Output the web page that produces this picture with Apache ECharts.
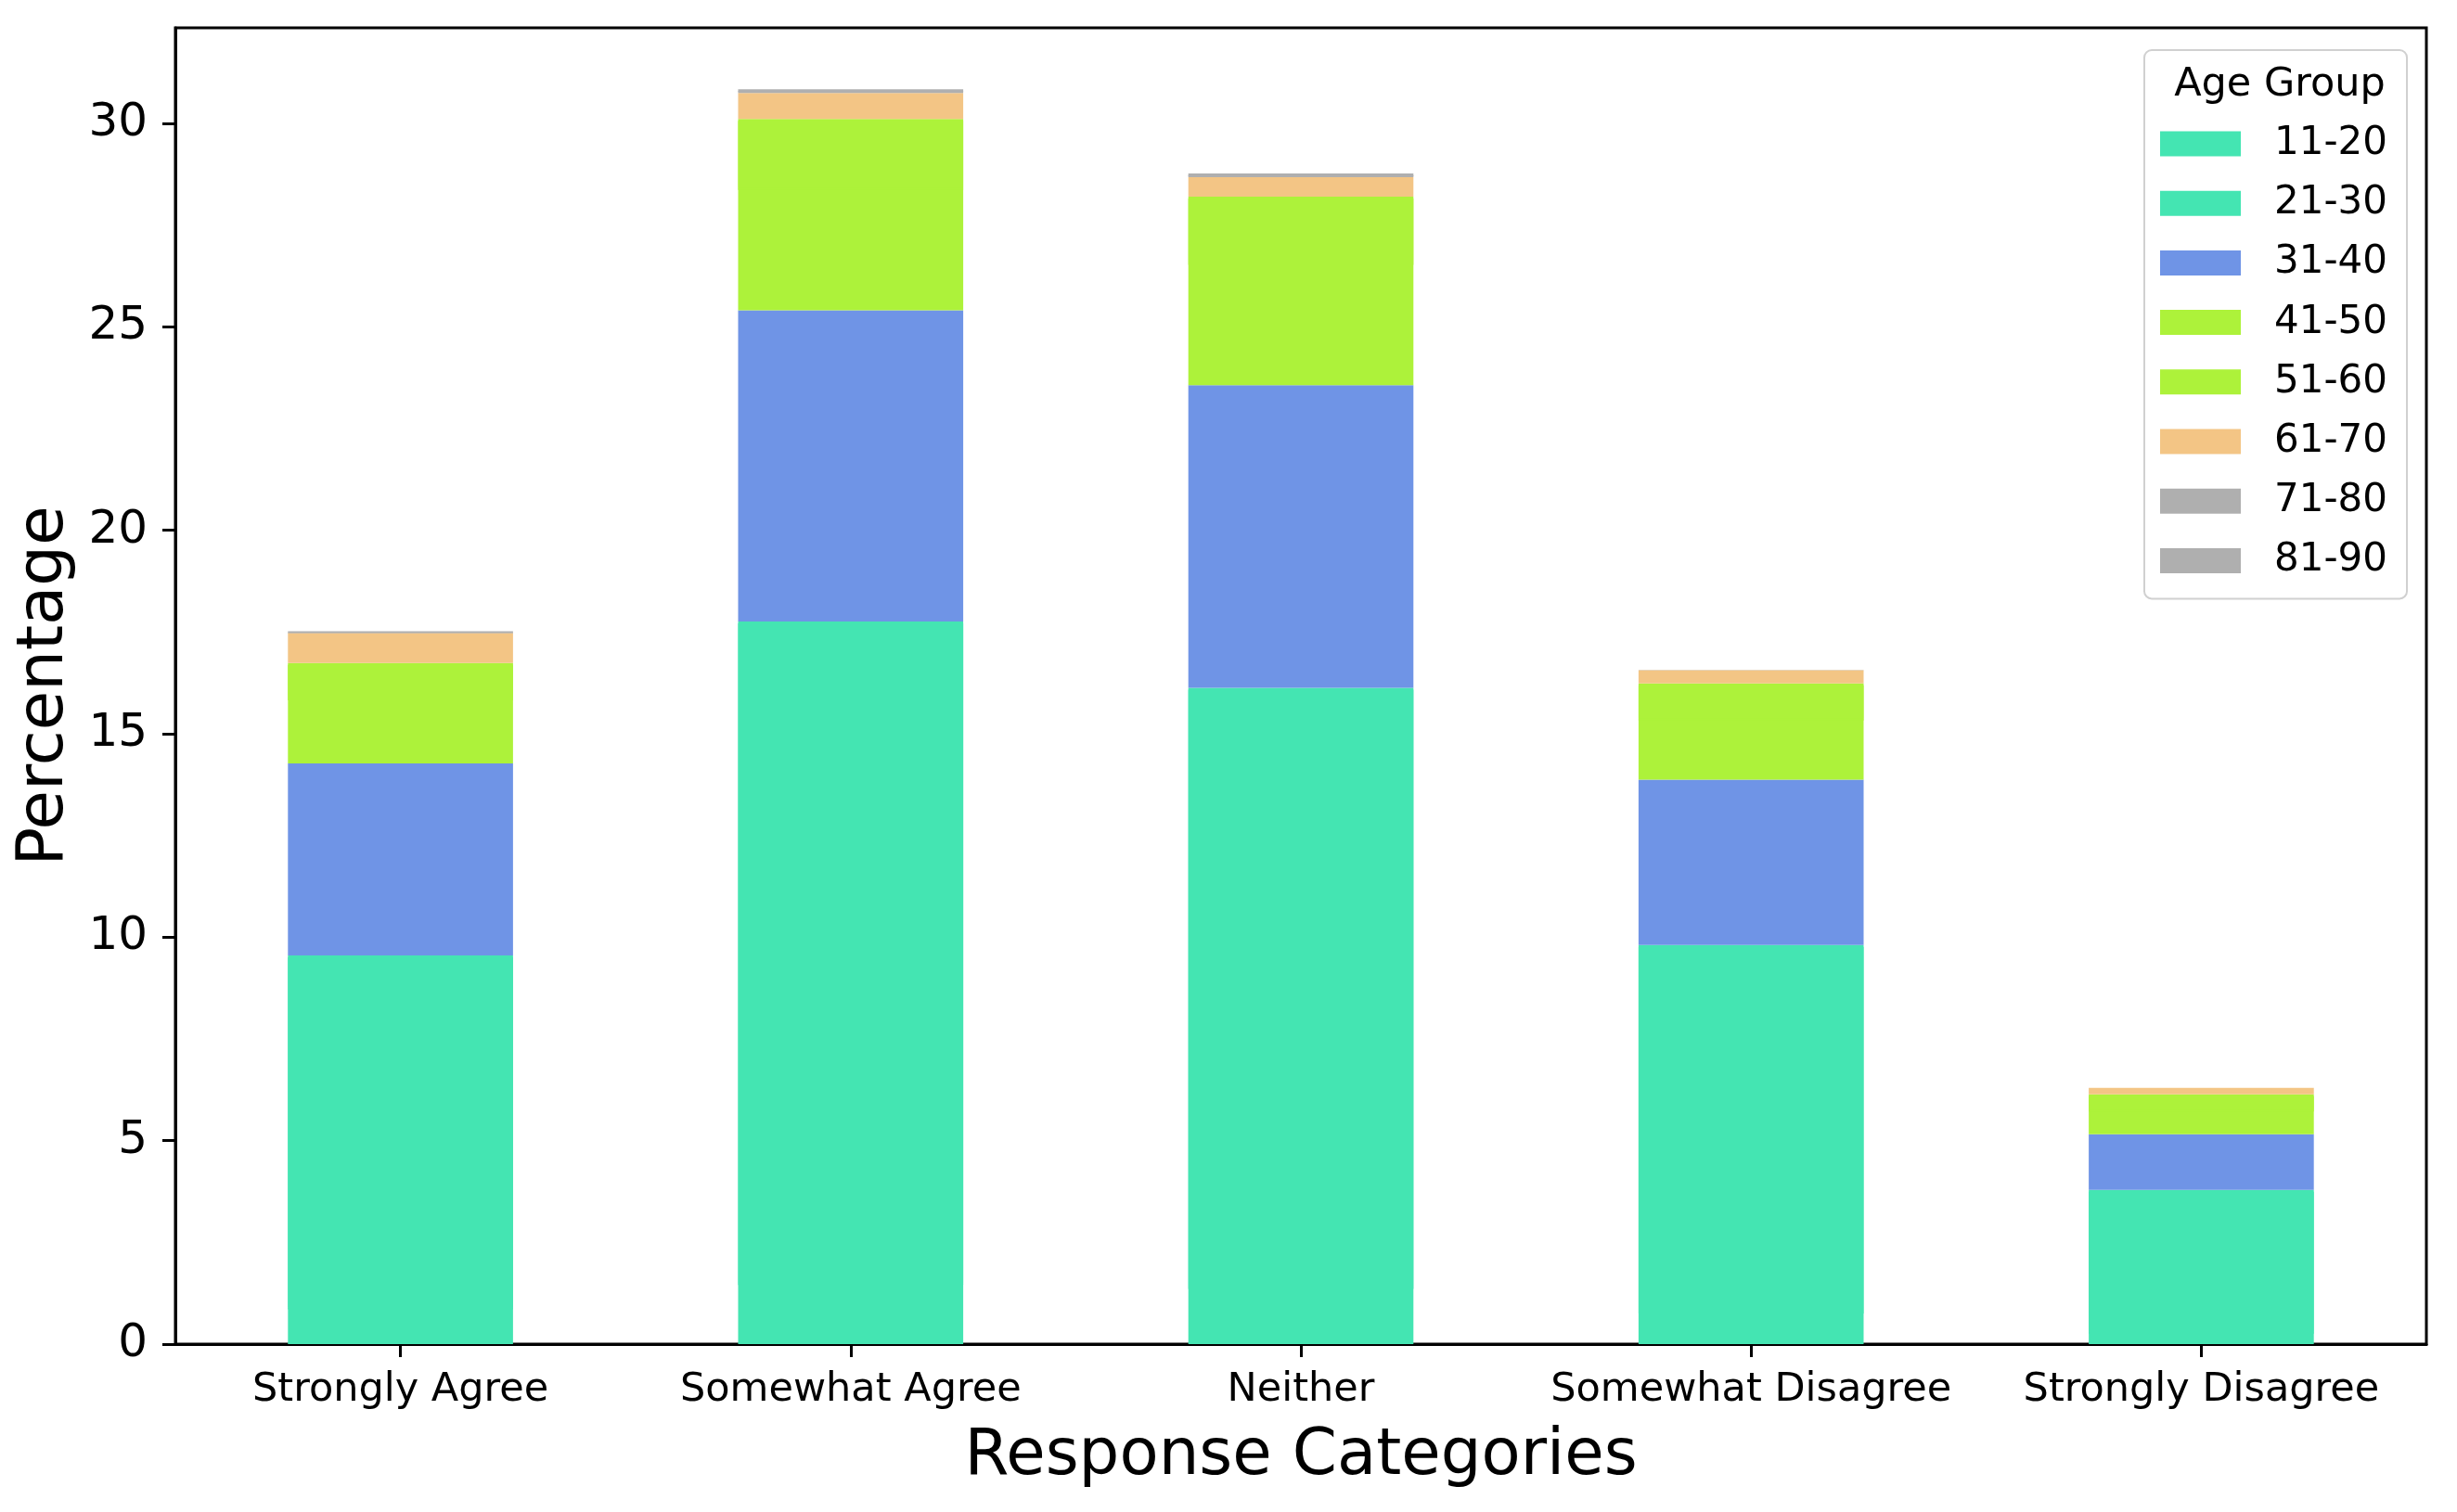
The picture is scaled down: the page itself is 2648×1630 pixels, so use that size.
<!DOCTYPE html>
<html>
<head>
<meta charset="utf-8">
<script src="https://cdn.jsdelivr.net/npm/echarts@6/dist/echarts.min.js"></script>
<style>
html,body{margin:0;padding:0;background:#fff;}
#chart{width:2648px;height:1630px;}
</style>
</head>
<body>
<div id="chart"></div>
<script>
var categories = ['Strongly Agree', 'Somewhat Agree', 'Neither', 'Somewhat Disagree', 'Strongly Disagree'];
var ageGroups = ['11-20', '21-30', '31-40', '41-50', '51-60', '61-70', '71-80', '81-90'];
var age11_20 = [0.9, 1.5, 1.4, 0.8, 0.3];
var age21_30 = [8.65, 16.26, 14.73, 9.01, 3.49];
var age31_40 = [4.72, 7.65, 7.44, 4.06, 1.37];
var age41_50 = [1.6, 3.0, 3.0, 1.5, 0.6];
var age51_60 = [0.87, 1.7, 1.63, 0.87, 0.38];
var age61_70 = [0.74, 0.64, 0.48, 0.32, 0.16];
var age71_80 = [0.03, 0.07, 0.07, 0.01, 0.0];
var age81_90 = [0.01, 0.02, 0.02, 0.0, 0.0];
var yTicks = [0, 5, 10, 15, 20, 25, 30];

var seriesValues = [age11_20, age21_30, age31_40, age41_50, age51_60, age61_70, age71_80, age81_90];
var colors = ['#44E5B2', '#44E5B2', '#6F94E6', '#ADF23A', '#ADF23A', '#F3C585', '#AFAFAF', '#AFAFAF'];

var font = 'DejaVu Sans';
var chart = echarts.init(document.getElementById('chart'), null, {renderer: 'canvas'});

var series = ageGroups.map(function (g, i) {
  // a segment that sits on one of the same colour gets a same-colour
  // shadow pushed 2px down, hiding the anti-aliasing seam between them
  var hideSeam = i > 0 && colors[i] === colors[i - 1];
  var style = {color: colors[i]};
  if (hideSeam) {
    style.shadowColor = colors[i];
    style.shadowBlur = 0;
    style.shadowOffsetY = 2;
  }
  return {
    name: g,
    type: 'bar',
    stack: 'total',
    barWidth: '50%',
    itemStyle: style,
    data: seriesValues[i]
  };
});

chart.setOption({
  animation: false,
  backgroundColor: '#fff',
  textStyle: {fontFamily: font, color: '#000'},
  grid: {
    left: 189, right: 33, top: 30, bottom: 181,
    show: true, borderColor: '#000', borderWidth: 3, backgroundColor: 'transparent'
  },
  title: {
    text: 'Age Group',
    left: 2452, top: 65, textAlign: 'center',
    textStyle: {fontFamily: font, fontSize: 43, fontWeight: 'normal', color: '#000'}
  },
  legend: {
    data: ageGroups,
    orient: 'vertical',
    left: 2311, top: 54,
    padding: [80, 21, 20, 17],
    itemWidth: 87, itemHeight: 27, itemGap: 22.2,
    backgroundColor: '#fff',
    borderColor: '#d0d0d0', borderWidth: 2, borderRadius: 8,
    icon: 'rect',
    selectedMode: false,
    itemStyle: {shadowBlur: 0, shadowOffsetY: 0, shadowColor: 'rgba(0,0,0,0)'},
    textStyle: {fontFamily: font, fontSize: 42, color: '#000', lineHeight: 42, padding: [0, 0, 0, 31]}
  },
  xAxis: {
    type: 'category',
    data: categories,
    boundaryGap: true,
    name: 'Response Categories',
    nameLocation: 'middle',
    nameGap: 88,
    nameTextStyle: {fontFamily: font, fontSize: 69, color: '#000'},
    axisLine: {show: true, lineStyle: {color: '#000', width: 3}},
    axisTick: {show: true, alignWithLabel: true, interval: 0, length: 14, lineStyle: {color: '#000', width: 3}},
    axisLabel: {fontFamily: font, fontSize: 43, color: '#000', margin: 28, interval: 0},
    splitLine: {show: false}
  },
  yAxis: {
    type: 'value',
    min: 0, max: 32.35,
    name: 'Percentage',
    nameLocation: 'middle',
    nameGap: 105,
    nameTextStyle: {fontFamily: font, fontSize: 69, color: '#000'},
    axisLine: {show: true, lineStyle: {color: '#000', width: 3}},
    axisTick: {show: true, length: 14, lineStyle: {color: '#000', width: 3}, customValues: yTicks},
    axisLabel: {fontFamily: font, fontSize: 50, color: '#000', margin: 30, customValues: yTicks},
    splitLine: {show: false}
  },
  series: series
});
</script>
</body>
</html>
